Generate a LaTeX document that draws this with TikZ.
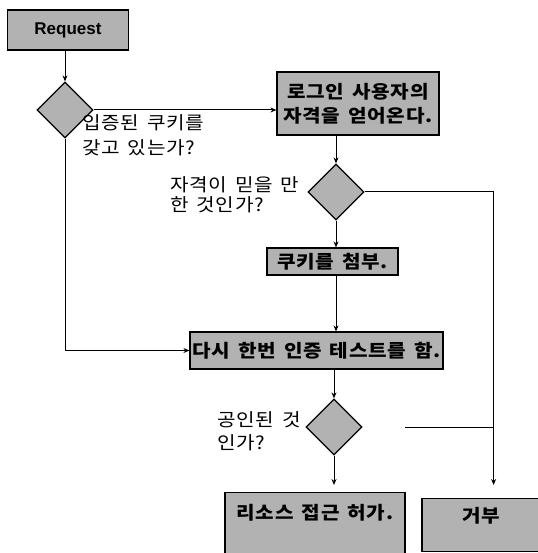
\documentclass[tikz,border=0pt]{standalone}
\usepackage{fontspec}
\setmainfont{Liberation Sans}
\newfontfamily\krfont[LetterSpace=4,WordSpace=1.5,FakeStretch=1.12]{Noto Sans CJK KR}
\usetikzlibrary{shapes.geometric,arrows.meta}

\begin{document}
\begin{tikzpicture}[x=1pt,y=-1pt,
    box/.style={draw,line width=1.2pt,fill=black!30,inner sep=0pt,align=center,
      font=\krfont\bfseries\fontsize{18}{24}\selectfont},
    dec/.style={diamond,draw,line width=1.2pt,fill=black!30,
      minimum width=56pt,minimum height=56pt,inner sep=0pt},
    note/.style={align=left,anchor=west,inner sep=0pt},
    flow/.style={line width=1pt,-{Stealth[length=6pt,width=5pt]}}]
  \useasboundingbox (0,0) rectangle (537,553);
  % boxes and decisions
  \node[box,minimum width=121pt,minimum height=40pt,
    font=\bfseries\fontsize{17}{20}\selectfont] (req) at (68,30) {Request};
  \node[dec] (d1) at (65,110) {};
  \node[box,minimum width=162pt,minimum height=63pt] (login) at (358,103.5)
    {로그인 사용자의\\자격을 얻어온다.};
  \node[dec] (d2) at (336,192) {};
  \node[box,minimum width=131pt,minimum height=27pt] (cookie) at (332.5,261.5) {쿠키를 첨부.};
  \node[box,minimum width=253pt,minimum height=37pt] (retest) at (316.5,350.5)
    {다시 한번 인증 테스트를 함.};
  \node[dec] (d3) at (334,427) {};
  \node[box,anchor=north,minimum width=180pt,text height=19pt,text depth=45pt,
    inner ysep=8pt] (grant) at (315,492) {리소스 접근 허가.};
  \node[box,anchor=north,minimum width=118pt,text height=16pt,text depth=21pt,
    inner ysep=8pt] (refuse) at (481,498) {거부};
  % questions
  \node[note,font=\krfont\fontsize{18}{25}\selectfont] (q1) at (82,135.5)
    {입증된 쿠키를\\갖고 있는가?};
  \node[note,font=\krfont\fontsize{18}{20}\selectfont] (q2) at (170,195)
    {자격이 믿을 만\\ 한 것인가?};
  \node[note,font=\krfont\fontsize{18}{23}\selectfont] (q3) at (217,431.5)
    {공인된 것\\인가?};
  % connectors
  \coordinate (turn) at ([xshift=129pt]d2.east);
  \coordinate (gap) at ([xshift=42pt]d3.east);
  \draw[flow] (req.south -| d1.north) -- (d1.north);
  \draw[flow] (d1.east) -- (d1.east -| login.west);
  \draw[flow] (d1.south) |- (retest.west);
  \draw[flow] (login.south -| d2.north) -- (d2.north);
  \draw[flow] (d2.south) -- (d2.south |- cookie.north);
  \draw[flow] (cookie.south -| d2.south) -- (retest.north -| d2.south);
  \draw[flow] (retest.south -| d3.north) -- (d3.north);
  \draw[flow,shorten >=13pt] (d2.east) -- (turn) -- (turn |- refuse.north);
  \draw[line width=1pt] (gap) -- (gap -| turn);
  \draw[flow,shorten >=7pt] (d3.south) -- (d3.south |- grant.north);
\end{tikzpicture}
\end{document}
